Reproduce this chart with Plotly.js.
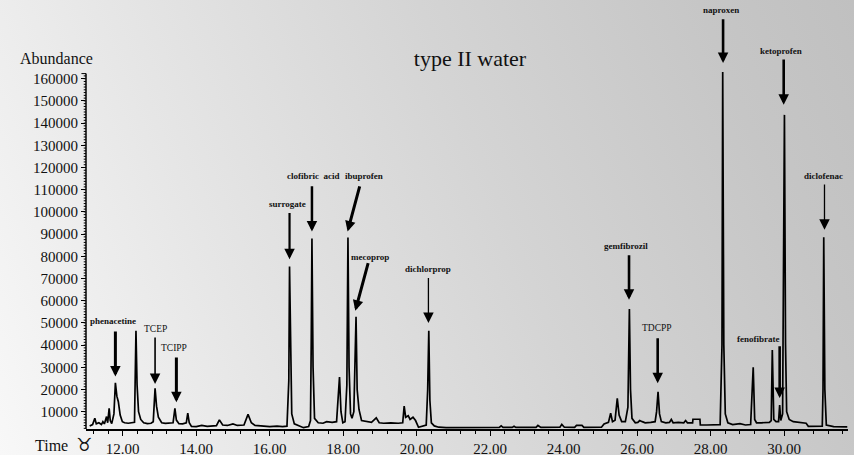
<!DOCTYPE html>
<html>
<head>
<meta charset="utf-8">
<script src="https://cdn.plot.ly/plotly-3.0.1.min.js"></script>
<style>
  html, body { margin: 0; padding: 0; }
  body {
    width: 854px; height: 455px; overflow: hidden;
    background: linear-gradient(68deg, #f8f8f8 0%, #e6e6e6 28%, #d4d4d4 58%, #c6c6c6 85%, #c0c0c0 100%);
  }
  #chart { width: 854px; height: 455px; }
</style>
</head>
<body>
<div id="chart"></div>
<script>
// Retention time (min) and abundance
const times = [
  11.10, 11.18, 11.24, 11.28, 11.35, 11.42, 11.46, 11.50, 11.56, 11.59,
  11.63, 11.66, 11.70, 11.76, 11.80, 11.84, 11.88, 11.93, 11.99, 12.05,
  12.15, 12.25, 12.32, 12.36, 12.39, 12.43, 12.49, 12.57, 12.67, 12.77,
  12.83, 12.88, 12.92, 12.97, 13.06, 13.16, 13.26, 13.37, 13.42, 13.46,
  13.53, 13.63, 13.73, 13.77, 13.81, 13.87, 14.00, 14.15, 14.30, 14.45,
  14.55, 14.63, 14.72, 14.85, 15.00, 15.12, 15.30, 15.41, 15.50, 15.60,
  15.80, 16.00, 16.20, 16.35, 16.47, 16.52, 16.54, 16.57, 16.60, 16.67,
  16.80, 16.92, 17.06, 17.11, 17.13, 17.15, 17.18, 17.22, 17.32, 17.45,
  17.55, 17.70, 17.82, 17.86, 17.90, 17.94, 17.99, 18.05, 18.10, 18.13,
  18.16, 18.20, 18.24, 18.29, 18.33, 18.35, 18.38, 18.43, 18.50, 18.62,
  18.77, 18.90, 18.98, 19.10, 19.30, 19.50, 19.62, 19.66, 19.70, 19.77,
  19.82, 19.90, 19.97, 20.05, 20.14, 20.26, 20.30, 20.33, 20.36, 20.40,
  20.48, 20.60, 20.80, 21.20, 21.60, 22.00, 22.25, 22.30, 22.35, 22.60,
  22.65, 22.70, 23.25, 23.30, 23.38, 23.90, 23.95, 24.02, 24.30, 24.35,
  24.50, 24.55, 24.80, 25.03, 25.10, 25.22, 25.28, 25.33, 25.40, 25.46,
  25.51, 25.58, 25.68, 25.75, 25.79, 25.82, 25.86, 25.95, 26.02, 26.07,
  26.14, 26.22, 26.37, 26.49, 26.53, 26.57, 26.61, 26.66, 26.78, 26.88,
  26.93, 26.98, 27.12, 27.27, 27.32, 27.37, 27.51, 27.52, 27.71, 27.72,
  27.90, 28.10, 28.26, 28.31, 28.33, 28.36, 28.40, 28.47, 28.60, 28.80,
  28.95, 29.09, 29.16, 29.20, 29.25, 29.38, 29.52, 29.60, 29.65, 29.68,
  29.72, 29.78, 29.85, 29.88, 29.91, 29.96, 30.01, 30.04, 30.07, 30.14,
  30.25, 30.40, 30.60, 30.66, 30.80, 30.95, 31.04, 31.06, 31.08, 31.11,
  31.15, 31.35, 31.72
];
const abundance = [
  3500, 4200, 7000, 4500, 5000, 4200, 5500, 4500, 7800, 5000,
  11500, 6000, 4600, 9000, 23000, 17000, 14500, 8500, 5500, 5000,
  4800, 5000, 5200, 46500, 22000, 10000, 6500, 5000, 4600, 4800,
  5500, 20500, 12500, 7500, 5000, 4700, 4800, 5000, 11500, 6200,
  4600, 4500, 5000, 9300, 5000, 3400, 3300, 3800, 3400, 3500,
  3700, 6300, 4000, 3800, 4500, 3800, 4000, 8800, 5000, 3800,
  3400, 3300, 3500, 3300, 3500, 24000, 75400, 30000, 9000, 4500,
  3500, 2800, 3300, 6000, 40000, 88000, 30000, 7000, 5000, 4800,
  5500, 5200, 5500, 15000, 25600, 10000, 5000, 5500, 22000, 88500,
  30000, 9000, 7000, 10000, 40000, 52800, 20000, 11000, 6000, 5500,
  5200, 7200, 5000, 4800, 5000, 4800, 5000, 12500, 7500, 8200,
  6500, 7500, 6000, 3000, 3500, 4000, 20000, 46400, 15000, 5000,
  3600, 3000, 2800, 2800, 2800, 2800, 2900, 3600, 2900, 2900,
  3400, 2900, 2900, 3800, 2900, 3000, 4300, 3000, 2900, 3800,
  3800, 2900, 2800, 3000, 4500, 5200, 9300, 5500, 6200, 16000,
  8500, 5500, 5500, 12000, 56200, 20000, 7000, 5000, 5200, 6000,
  5500, 5000, 5200, 5500, 10000, 19000, 9000, 5500, 5000, 5200,
  6500, 5000, 5200, 5000, 6000, 5000, 5000, 6600, 6600, 4000,
  4000, 4000, 4200, 40000, 163000, 40000, 9000, 5000, 4200, 4600,
  4000, 4200, 30000, 6500, 5000, 5000, 5200, 5200, 6000, 37800,
  6500, 5500, 5500, 13000, 6000, 9000, 143700, 40000, 10000, 6500,
  5500, 5200, 4800, 3400, 3400, 3300, 3500, 20000, 88600, 20000,
  4000, 3300, 3200
];

// Compound labels and arrows (time, abundance)
const labelText  = ['phenacetine', 'TCEP', 'TCIPP', 'surrogate', 'clofibric  acid', 'ibuprofen',
                    'mecoprop', 'dichlorprop', 'gemfibrozil', 'TDCPP', 'naproxen', 'ketoprofen',
                    'diclofenac', 'fenofibrate'];
const labelTime  = [11.74, 12.88, 13.40, 16.49, 17.19, 18.56, 18.73, 20.32, 25.70, 26.53, 28.28, 29.91, 31.08, 29.30];
const labelAbund = [51000, 47400, 38700, 103600, 116300, 116300, 79900, 74300, 84800, 47600, 191100, 172300, 116000, 42600];
const tipTime    = [11.80, 12.88, 13.46, 16.54, 17.15, 18.12, 18.33, 20.32, 25.78, 26.56, 28.34, 29.99, 31.10, 29.88];
const tipAbund   = [25800, 22500, 14200, 78700, 91200, 91200, 55500, 49900, 60400, 22800, 167100, 148300, 91900, 16200];
const tailTime   = [11.80, 12.88, 13.46, 16.54, 17.15, 18.46, 18.69, 20.32, 25.78, 26.56, 28.34, 29.99, 31.10, 29.88];
const tailAbund  = [46800, 44100, 35100, 100200, 112200, 112200, 77600, 70900, 81100, 43700, 187400, 169300, 113000, 40100];

const yTickVals = [10000, 20000, 30000, 40000, 50000, 60000, 70000, 80000,
                   90000, 100000, 110000, 120000, 130000, 140000, 150000, 160000];

// styling
const arrowWidths = [3, 1.6, 3, 2.2, 2.5, 3, 3, 1.3, 2.6, 2.6, 2.6, 2.6, 1.3, 2.6];
const boldLabel   = [true, false, false, true, true, true, true, true, true, false, true, true, true, true];
const serif = 'Liberation Serif, Times New Roman, serif';

const trace = {
  x: times, y: abundance, type: 'scatter', mode: 'lines',
  line: { color: '#000', width: 1.7 }, hoverinfo: 'skip'
};

const annotations = [];
for (let i = 0; i < labelText.length; i++) {
  const w = arrowWidths[i];
  annotations.push({
    x: tipTime[i], y: tipAbund[i], xref: 'x', yref: 'y',
    ax: tailTime[i], ay: tailAbund[i], axref: 'x', ayref: 'y',
    text: '', showarrow: true, arrowhead: 2, arrowwidth: w,
    arrowsize: 2.1 / w, arrowcolor: '#000', standoff: 0, startstandoff: 0
  });
  annotations.push({
    x: labelTime[i], y: labelAbund[i], xref: 'x', yref: 'y',
    text: labelText[i], showarrow: false,
    font: boldLabel[i] ? { family: serif, size: 9, color: '#111', weight: 'bold' }
                       : { family: serif, size: 9.5, color: '#111' },
    xanchor: 'center', yanchor: 'middle'
  });
}

const plotW = 854 - 86 - 6, plotH = 455 - 1 - 26;
function px(x) { return (x - 86) / plotW; }
function py(y) { return (455 - 26 - y) / plotH; }

annotations.push({
  x: px(56), y: py(59), xref: 'paper', yref: 'paper', text: 'Abundance', showarrow: false,
  font: { family: serif, size: 16, color: '#111' }, xanchor: 'center', yanchor: 'middle'
});
annotations.push({
  x: px(51), y: py(446), xref: 'paper', yref: 'paper', text: 'Time', showarrow: false,
  font: { family: serif, size: 16, color: '#111' }, xanchor: 'center', yanchor: 'middle'
});
annotations.push({
  x: px(84), y: py(444), xref: 'paper', yref: 'paper', text: '♉', showarrow: false,
  font: { family: 'DejaVu Sans', size: 18, color: '#111' }, xanchor: 'center', yanchor: 'middle'
});

// y axis line, top cap and fine ruler ticks
const shapes = [
  { type: 'line', xref: 'paper', yref: 'y', x0: 0, x1: 0, y0: 2200, y1: 162300,
    line: { color: '#000', width: 1.5 } },
  { type: 'line', xref: 'paper', yref: 'y', x0: -0.006, x1: 0, y0: 162300, y1: 162300,
    line: { color: '#000', width: 1 } }
];
for (let v = 2500; v <= 162000; v += 1250) {
  shapes.push({ type: 'line', xref: 'paper', yref: 'y', x0: -0.003, x1: 0, y0: v, y1: v,
    line: { color: '#000', width: 1 } });
}

const layout = {
  width: 854, height: 455,
  margin: { l: 86, r: 6, t: 1, b: 26 },
  paper_bgcolor: 'rgba(0,0,0,0)', plot_bgcolor: 'rgba(0,0,0,0)',
  showlegend: false, hovermode: false,
  title: {
    text: 'type II water', x: 470 / 854, xanchor: 'center',
    y: 1 - 58 / 455, yanchor: 'middle',
    font: { family: serif, size: 22, color: '#111' }
  },
  xaxis: {
    range: [11.0, 31.74], tickvals: [12, 14, 16, 18, 20, 22, 24, 26, 28, 30],
    tickformat: '.2f', ticks: 'outside', ticklen: 5, tickwidth: 1, tickcolor: '#000',
    showline: true, linecolor: '#000', linewidth: 1.5, showgrid: false, zeroline: false,
    tickfont: { family: serif, size: 15, color: '#111' },
    minor: { dtick: 0.4, tick0: 12, ticks: 'outside', ticklen: 3, tickcolor: '#000', showgrid: false }
  },
  yaxis: {
    range: [2200, 195000], tickvals: yTickVals, tickformat: 'd',
    ticks: 'outside', ticklen: 4, tickwidth: 1, tickcolor: '#000',
    showline: false, showgrid: false, zeroline: false,
    tickfont: { family: serif, size: 15, color: '#111' }
  },
  shapes: shapes,
  annotations: annotations
};

Plotly.newPlot('chart', [trace], layout, { displayModeBar: false, staticPlot: true });
</script>
</body>
</html>
